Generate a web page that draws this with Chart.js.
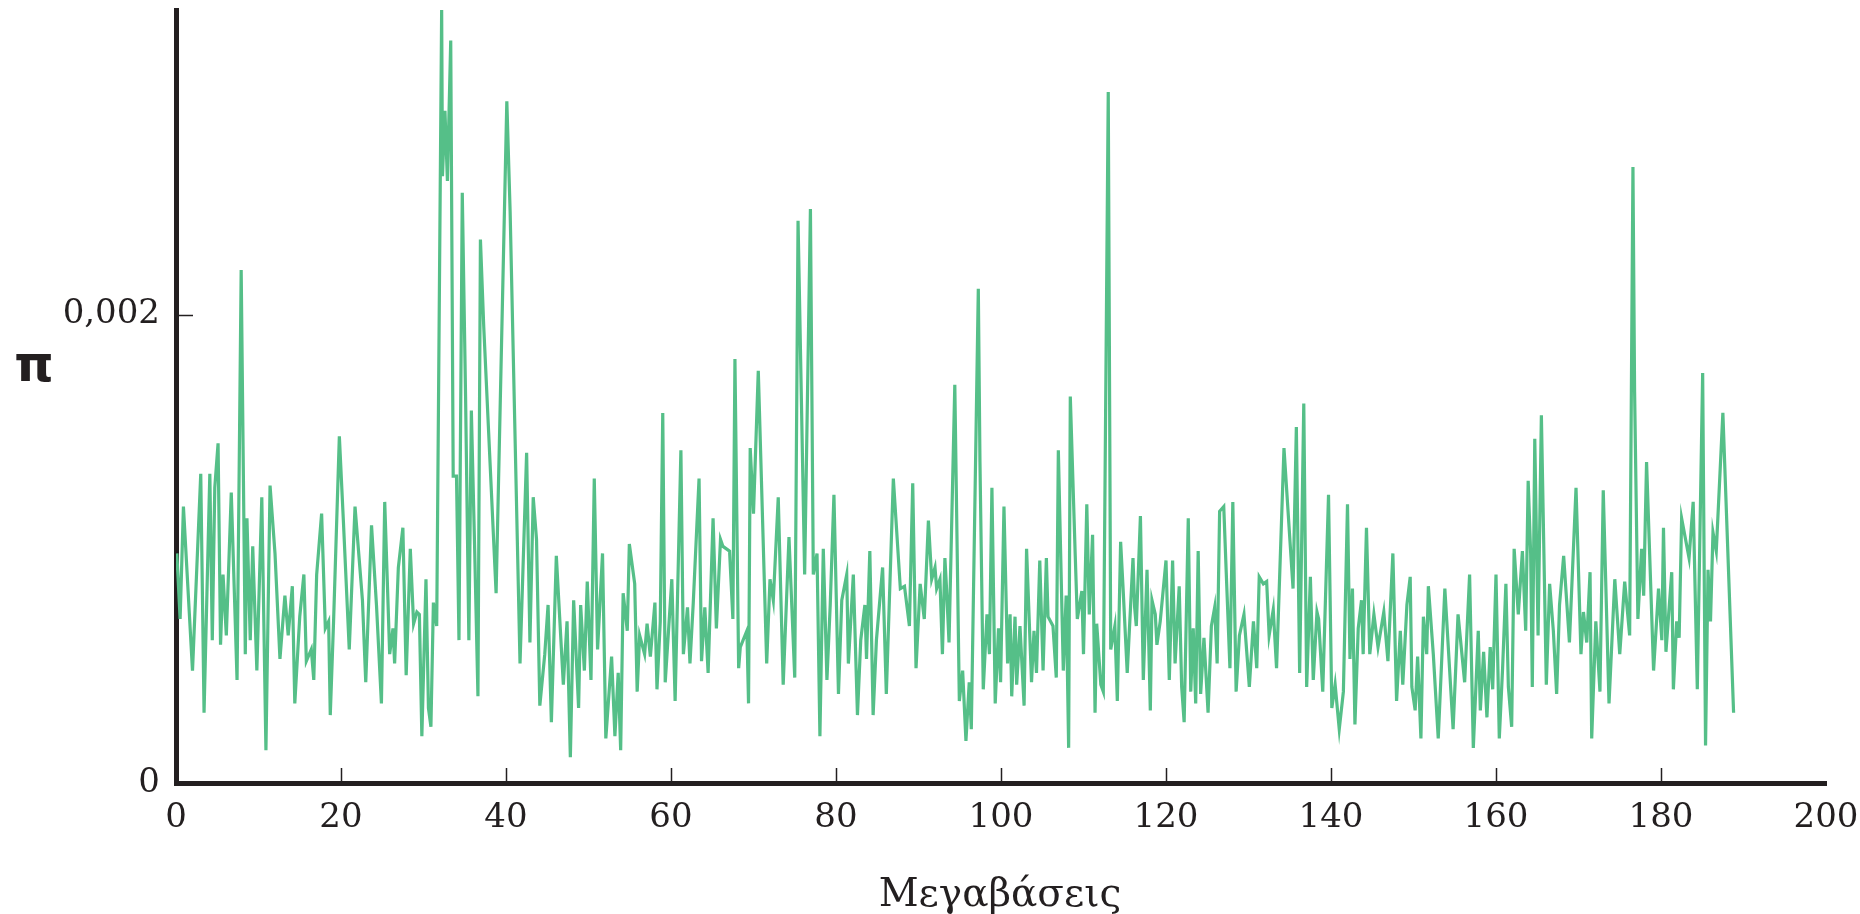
<!DOCTYPE html>
<html lang="el">
<head>
<meta charset="utf-8">
<title>π κατά μήκος του χρωμοσώματος</title>
<script src="https://cdn.jsdelivr.net/npm/chart.js@4.4.1/dist/chart.umd.min.js"></script>
<style>
  html, body { margin: 0; padding: 0; background: #fff; }
  #wrap { width: 1860px; height: 914px; }
</style>
</head>
<body>
<div id="wrap"><canvas id="chart" width="1860" height="914"></canvas></div>
<script>
// Θέση κατά μήκος του χρωμοσώματος (Mb)
const positions = [
  0.1, 0.5, 0.9, 2.0, 3.0, 3.4, 4.1, 4.4, 4.7, 5.1, 5.4, 5.7, 6.1, 6.7, 7.4, 7.9, 8.4, 8.6, 9.0, 9.3, 9.8, 10.4, 10.9,
  11.4, 12.0, 12.6, 13.2, 13.6, 14.1, 14.4, 15.0, 15.5, 15.8, 16.4, 16.7, 17.05, 17.65, 18.1, 18.5, 18.7, 19.1, 19.8, 20.3, 21.0, 21.7, 22.6, 23.0,
  23.7, 24.3, 24.9, 25.3, 25.9, 26.3, 26.5, 26.95, 27.5, 27.9, 28.4, 28.8, 29.2, 29.5, 29.8, 30.3, 30.6, 30.9, 31.2, 31.6,
  32.2, 32.3, 32.6, 32.9, 33.3, 33.6, 34.0, 34.3, 34.7, 35.1, 35.5, 35.8, 36.2, 36.6, 36.9, 37.3, 38.8, 40.1, 40.5, 41.7, 42.5, 42.9, 43.3, 43.7, 44.1, 44.7, 45.1, 45.5, 46.1,
  46.95, 47.4, 47.8, 48.2, 48.8, 49.05, 49.5, 49.85, 50.3, 50.7, 51.1, 51.7, 52.1, 52.8, 53.2, 53.6, 53.9, 54.2, 54.7, 54.95, 55.6, 55.9, 56.2, 56.8, 57.1, 57.5, 58.05, 58.3,
  58.7, 59.0, 59.3, 60.1, 60.5, 61.2, 61.5, 62.0, 62.3, 62.7, 63.4, 63.7, 64.1, 64.5, 65.1, 65.5, 66.0, 66.3, 67.1, 67.5, 67.75, 68.2, 68.4, 69.2, 69.4,
  69.6, 70.0, 70.58, 71.6, 72.0, 72.4, 73.0, 73.6, 74.3, 75.0, 75.4, 76.2, 76.9, 77.25, 77.7, 78.05, 78.46, 78.9, 79.3, 79.75, 80.3,
  80.7, 81.3, 81.5, 82.1, 82.6, 83.0, 83.5, 83.7, 84.1, 84.5, 84.9, 85.65, 86.1, 86.95, 87.8, 88.3, 88.9, 89.3, 89.7, 90.2, 90.7, 91.2, 91.6, 92.0, 92.2,
  92.6, 92.9, 93.2, 93.4, 93.7, 94.4, 94.95, 95.35, 95.75, 96.15, 96.4, 97.25, 97.45, 97.85, 98.3, 98.6, 98.9, 99.3, 99.7, 99.95, 100.36, 100.8, 101.1, 101.3, 101.7, 101.9, 102.3, 102.8, 103.1,
  103.7, 104.0, 104.3, 104.7, 105.1, 105.5, 105.7, 106.3, 106.7, 106.95, 107.55, 107.9, 108.2, 108.4, 109.0, 109.25, 109.8, 110.0, 110.4, 110.7, 111.1, 111.4, 111.6, 112.1, 112.4, 113.0, 113.3, 113.8, 114.1, 114.5,
  114.8, 115.3, 116.0, 116.2, 116.4, 116.9, 117.25, 117.7, 118.1, 118.3, 118.7, 118.9, 119.3, 120.0, 120.4, 120.8, 121.1, 121.6, 121.9, 122.2, 122.7, 123.0, 123.3, 123.6, 123.9, 124.2, 124.6, 125.1, 125.5,
  125.9, 126.2, 126.5, 127.0, 127.3, 127.75, 128.1, 128.5, 128.9, 129.45, 130.1, 130.6, 131.0, 131.3, 131.8, 132.2, 132.5, 133.0, 133.4, 134.3, 135.4, 135.8, 136.2, 136.7, 137.05, 137.5, 137.85, 138.3,
  138.5, 139.0, 139.7, 140.1, 140.5, 141.0, 141.5, 142.0, 142.3, 142.6, 142.9, 143.3, 143.7, 143.9, 144.3, 144.7, 145.2, 145.7, 146.4, 146.9, 147.5, 147.95, 148.4, 148.7, 149.2, 149.6, 149.8,
  150.2, 150.5, 150.9, 151.2, 151.6, 151.8, 152.4, 153.0, 153.8, 154.8, 155.4, 156.2, 156.8, 157.25, 157.85, 158.1, 158.5, 158.9, 159.3, 159.6, 160.0, 160.4, 160.8, 161.2, 161.5, 161.9,
  162.2, 162.7, 163.2, 163.6, 163.9, 164.2, 164.4, 164.7, 165.1, 165.5, 166.1, 166.5, 166.95, 167.35, 167.7, 168.2, 168.9, 169.7, 170.3, 170.6, 171.0, 171.4, 171.6, 172.1, 172.6, 173.0,
  173.7, 174.4, 175.0, 175.6, 176.2, 176.6, 176.8, 177.2, 177.65, 177.9, 178.25, 179.1, 179.7, 180.1, 180.3,
  180.6, 181.3, 181.5, 181.9, 182.2, 182.5, 183.4, 183.9, 184.4, 185.05, 185.4, 185.7, 186.0, 186.3, 186.7, 187.5, 188.8
];

// Νουκλεοτιδική ποικιλότητα π, σε χιλιοστά (×0,001)
const piThousandths = [
  0.98, 0.70, 1.18, 0.48, 1.32, 0.30, 1.32, 0.61, 1.26, 1.45, 0.59, 0.89, 0.63, 1.24, 0.44, 2.19, 0.55, 1.13, 0.61, 1.01, 0.48, 1.22, 0.14,
  1.27, 0.98, 0.53, 0.80, 0.63, 0.84, 0.34, 0.71, 0.89, 0.52, 0.57, 0.44, 0.89, 1.15, 0.66, 0.69, 0.29, 0.69, 1.48, 1.11, 0.57, 1.18, 0.78, 0.43,
  1.10, 0.76, 0.34, 1.20, 0.55, 0.66, 0.51, 0.92, 1.09, 0.46, 1.00, 0.68, 0.73, 0.72, 0.20, 0.87, 0.32, 0.24, 0.77, 0.67,
  3.30, 2.59, 2.87, 2.57, 3.17, 1.31, 1.31, 0.61, 2.52, 1.65, 0.61, 1.59, 1.00, 0.37, 2.32, 1.95, 0.81, 2.91, 2.44, 0.51, 1.41, 0.60, 1.22, 1.04, 0.33, 0.55, 0.76, 0.26, 0.97,
  0.42, 0.69, 0.11, 0.78, 0.32, 0.76, 0.48, 0.86, 0.44, 1.30, 0.57, 0.98, 0.19, 0.54, 0.20, 0.47, 0.14, 0.81, 0.65, 1.02, 0.85, 0.39, 0.63, 0.55, 0.68, 0.54, 0.77, 0.40,
  0.69, 1.58, 0.43, 0.87, 0.35, 1.42, 0.55, 0.75, 0.51, 0.77, 1.30, 0.52, 0.75, 0.47, 1.13, 0.66, 1.04, 1.01, 0.99, 0.70, 1.81, 0.49, 0.58, 0.65, 0.34,
  1.43, 1.15, 1.76, 0.51, 0.87, 0.78, 1.22, 0.42, 1.05, 0.45, 2.40, 0.89, 2.45, 0.89, 0.98, 0.20, 1.00, 0.44, 0.76, 1.23, 0.38,
  0.78, 0.89, 0.51, 0.89, 0.29, 0.61, 0.76, 0.53, 0.99, 0.29, 0.61, 0.92, 0.38, 1.30, 0.83, 0.84, 0.67, 1.28, 0.49, 0.85, 0.70, 1.12, 0.87, 0.92, 0.83,
  0.87, 0.55, 0.96, 0.83, 0.60, 1.70, 0.35, 0.48, 0.18, 0.43, 0.23, 2.11, 1.37, 0.40, 0.72, 0.55, 1.26, 0.34, 0.66, 0.43, 1.18, 0.51, 0.72, 0.37, 0.71, 0.42, 0.67, 0.33, 1.00,
  0.43, 0.65, 0.47, 0.95, 0.48, 0.96, 0.71, 0.67, 0.45, 1.42, 0.48, 0.80, 0.15, 1.65, 0.97, 0.70, 0.82, 0.55, 1.19, 0.72, 1.06, 0.30, 0.68, 0.42, 0.39, 2.95, 0.57, 0.67, 0.35, 1.03,
  0.83, 0.47, 0.96, 0.75, 0.67, 1.14, 0.44, 0.91, 0.31, 0.78, 0.72, 0.59, 0.69, 0.95, 0.44, 0.95, 0.51, 0.84, 0.41, 0.26, 1.13, 0.39, 0.66, 0.34, 0.99, 0.38, 0.62, 0.30, 0.67,
  0.75, 0.51, 1.16, 1.18, 0.90, 0.49, 1.20, 0.39, 0.63, 0.72, 0.41, 0.69, 0.49, 0.88, 0.85, 0.86, 0.63, 0.74, 0.49, 1.43, 0.83, 1.52, 0.47, 1.62, 0.41, 0.88, 0.44, 0.73,
  0.70, 0.39, 1.23, 0.32, 0.42, 0.23, 0.39, 1.19, 0.53, 0.83, 0.25, 0.66, 0.78, 0.55, 1.09, 0.55, 0.72, 0.58, 0.73, 0.52, 0.98, 0.35, 0.65, 0.42, 0.76, 0.88, 0.41,
  0.31, 0.54, 0.19, 0.71, 0.55, 0.84, 0.55, 0.19, 0.83, 0.23, 0.72, 0.43, 0.89, 0.15, 0.65, 0.31, 0.56, 0.28, 0.58, 0.40, 0.89, 0.19, 0.49, 0.85, 0.41, 0.24,
  1.00, 0.72, 0.99, 0.65, 1.29, 0.98, 0.41, 1.47, 0.63, 1.57, 0.42, 0.85, 0.65, 0.38, 0.76, 0.97, 0.60, 1.26, 0.55, 0.73, 0.60, 0.90, 0.19, 0.69, 0.39, 1.25,
  0.34, 0.87, 0.55, 0.86, 0.63, 2.63, 1.67, 0.70, 1.00, 0.80, 1.37, 0.48, 0.83, 0.61, 1.09,
  0.56, 0.90, 0.40, 0.69, 0.62, 1.13, 0.96, 1.20, 0.40, 1.75, 0.16, 0.91, 0.69, 1.07, 0.99, 1.58, 0.30
];

// Άξονες
const xTickValues = [0, 20, 40, 60, 80, 100, 120, 140, 160, 180, 200];
const yTickValues = [0, 0.002];
const yTickLabels = ['0', '0,002'];

const xTitle = 'Μεγαβάσεις';
const yTitle = 'π';

const INK = '#231f20';
const LINE_GREEN = '#55bf88';
const SERIF = '"DejaVu Serif", "Liberation Serif", serif';

const points = positions.map((x, i) => ({ x: x, y: piThousandths[i] / 1000 }));

// Μικρές εσωτερικές γραμμές υποδιαιρέσεων και τίτλοι αξόνων
const axisDecor = {
  id: 'axisDecor',
  afterDraw(chart) {
    const { ctx, chartArea, scales } = chart;
    ctx.save();
    ctx.strokeStyle = INK;
    ctx.lineWidth = 1.5;

    // υποδιαιρέσεις του x προς τα μέσα
    xTickValues.slice(1, -1).forEach(v => {
      const px = Math.round(scales.x.getPixelForValue(v)) + 0.5;
      ctx.beginPath();
      ctx.moveTo(px, chartArea.bottom - 2);
      ctx.lineTo(px, chartArea.bottom - 15);
      ctx.stroke();
    });

    // υποδιαίρεση του y στο 0,002
    const py = Math.round(scales.y.getPixelForValue(0.002)) + 0.5;
    ctx.beginPath();
    ctx.moveTo(chartArea.left + 2, py);
    ctx.lineTo(chartArea.left + 17, py);
    ctx.stroke();

    ctx.fillStyle = INK;
    ctx.textBaseline = 'alphabetic';
    ctx.textAlign = 'center';

    ctx.font = 'bold 50px "DejaVu Sans", sans-serif';
    ctx.fillText(yTitle, 34, 381);

    ctx.font = '39px ' + SERIF;
    ctx.fillText(xTitle, 1000, 906);
    ctx.restore();
  }
};

const ctx = document.getElementById('chart').getContext('2d');

new Chart(ctx, {
  type: 'line',
  data: {
    datasets: [{
      data: points,
      borderColor: LINE_GREEN,
      borderWidth: 3.2,
      pointRadius: 0,
      pointHoverRadius: 0,
      tension: 0,
      fill: false
    }]
  },
  options: {
    responsive: false,
    animation: false,
    events: [],
    layout: {
      padding: { top: 10, right: 34, bottom: 0, left: 0 }
    },
    plugins: {
      legend: { display: false },
      tooltip: { enabled: false }
    },
    scales: {
      x: {
        type: 'linear',
        min: 0,
        max: 200,
        afterBuildTicks: axis => {
          axis.ticks = xTickValues.map(v => ({ value: v }));
        },
        afterFit: axis => {
          axis.height = 131;
          axis.paddingLeft = 0;
          axis.paddingRight = 0;
        },
        grid: { display: false, drawTicks: false },
        border: { display: true, color: INK, width: 5 },
        ticks: {
          color: INK,
          padding: 15,
          maxRotation: 0,
          autoSkip: false,
          font: { family: SERIF, size: 34 }
        }
      },
      y: {
        type: 'linear',
        min: 0,
        max: 0.0033,
        afterBuildTicks: axis => {
          axis.ticks = yTickValues.map(v => ({ value: v }));
        },
        afterFit: axis => {
          axis.width = 176;
          axis.paddingTop = 0;
          axis.paddingBottom = 0;
        },
        grid: { display: false, drawTicks: false },
        border: { display: true, color: INK, width: 5 },
        ticks: {
          color: INK,
          padding: 16,
          autoSkip: false,
          font: { family: SERIF, size: 34 },
          callback: value => {
            const i = yTickValues.indexOf(value);
            return i >= 0 ? yTickLabels[i] : '';
          }
        }
      }
    }
  },
  plugins: [axisDecor]
});
</script>
</body>
</html>
